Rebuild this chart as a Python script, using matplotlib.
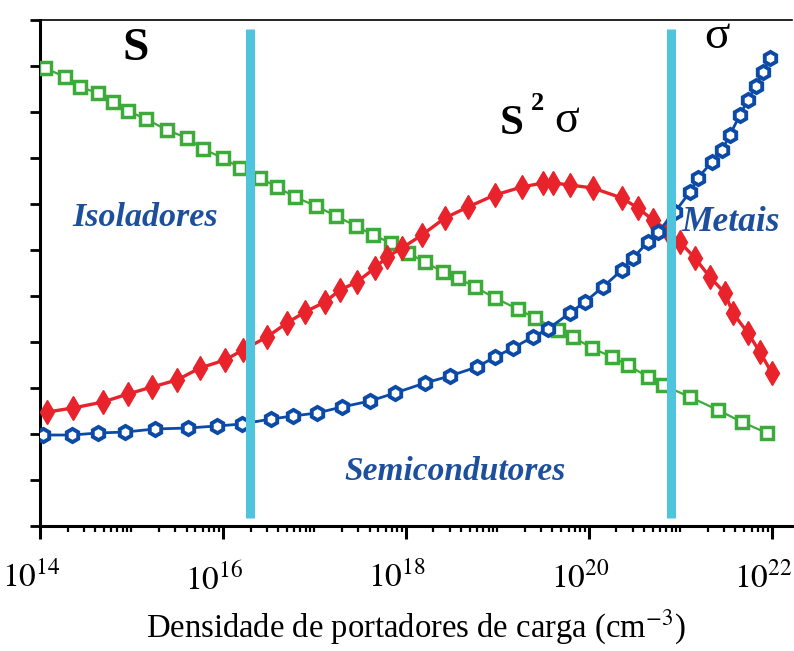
import numpy as np
import matplotlib
matplotlib.use('Agg')
import matplotlib.pyplot as plt
import matplotlib.transforms as mtransforms
from matplotlib.ticker import LogLocator, NullFormatter, MultipleLocator

# log10 da densidade de portadores e valores (unid. arbitrárias)
s_logn = [14.055, 14.273, 14.437, 14.634, 14.798, 14.962, 15.158, 15.388, 15.607, 15.781,
          16.000, 16.186, 16.404, 16.590, 16.787, 17.016, 17.235, 17.454, 17.639, 17.836,
          18.022, 18.208, 18.404, 18.568, 18.754, 18.973, 19.224, 19.410, 19.661, 19.825,
          20.033, 20.251, 20.426, 20.645, 20.809, 21.104, 21.410, 21.672, 21.945]
s_val = [9.957, 9.761, 9.543, 9.413, 9.217, 9.022, 8.848, 8.609, 8.435, 8.196,
         8.000, 7.783, 7.565, 7.370, 7.152, 6.957, 6.739, 6.522, 6.326, 6.152,
         5.935, 5.739, 5.522, 5.391, 5.196, 4.957, 4.717, 4.522, 4.261, 4.109,
         3.870, 3.674, 3.500, 3.239, 3.065, 2.804, 2.522, 2.261, 2.022]

pf_logn = [14.077, 14.361, 14.689, 14.962, 15.224, 15.497, 15.749, 16.022, 16.219, 16.481,
           16.699, 16.896, 17.115, 17.279, 17.464, 17.661, 17.792, 17.956, 18.175, 18.426,
           18.678, 18.973, 19.268, 19.497, 19.607, 19.792, 20.044, 20.361, 20.536, 20.700,
           20.852, 20.995, 21.158, 21.322, 21.486, 21.574, 21.738, 21.869, 22.000]
pf_val = [2.478, 2.565, 2.696, 2.870, 3.022, 3.174, 3.435, 3.609, 3.826, 4.109,
          4.413, 4.652, 4.870, 5.130, 5.304, 5.609, 5.848, 6.043, 6.326, 6.696,
          6.935, 7.196, 7.370, 7.457, 7.457, 7.413, 7.348, 7.130, 6.913, 6.652,
          6.435, 6.174, 5.826, 5.413, 5.065, 4.630, 4.196, 3.783, 3.326]

sig_logn = [14.033, 14.350, 14.634, 14.929, 15.257, 15.617, 15.934, 16.208, 16.525, 16.765,
            17.027, 17.301, 17.607, 17.880, 18.208, 18.481, 18.776, 18.973, 19.169, 19.388,
            19.552, 19.792, 19.956, 20.153, 20.361, 20.481, 20.645, 20.754, 20.940, 21.104,
            21.191, 21.344, 21.454, 21.541, 21.650, 21.738, 21.825, 21.902, 21.978]
sig_val = [1.978, 1.978, 2.022, 2.043, 2.109, 2.130, 2.174, 2.217, 2.326, 2.391,
           2.457, 2.587, 2.717, 2.891, 3.109, 3.261, 3.457, 3.674, 3.870, 4.109,
           4.283, 4.630, 4.870, 5.196, 5.565, 5.826, 6.174, 6.391, 6.826, 7.261,
           7.565, 7.913, 8.174, 8.500, 8.935, 9.261, 9.565, 9.870, 10.174]

# limites entre regimes (log10 n)
borders = [16.295, 20.896]
xtick_exp = [14, 16, 18, 20, 22]

plt.rcParams['font.family'] = ['Liberation Serif', 'DejaVu Serif']
plt.rcParams['mathtext.fontset'] = 'stix'

GREEN, RED, BLUE, CYAN, TXT = '#3dab3a', '#e8232b', '#0b4aa6', '#4ec5dc', '#1d4f9c'

fig = plt.figure(figsize=(7.94, 6.51), dpi=100)
ax = fig.add_axes([40/794, 1-526/651, 752/794, 506/651])

ax.plot(10**np.array(s_logn), s_val, '-s', color=GREEN, lw=1.6, ms=9,
        mfc='white', mec=GREEN, mew=2.5, zorder=3)
ax.plot(10**np.array(pf_logn), pf_val, '-d', color=RED, lw=2.4, ms=12,
        mfc=RED, mec=RED, zorder=3)
ax.plot(10**np.array(sig_logn), sig_val, '-h', color=BLUE, lw=2.0, ms=9.5,
        mfc='white', mec=BLUE, mew=2.8, zorder=4)
for b in borders:
    ax.plot([10**b, 10**b], [0.17, 10.8], color=CYAN, lw=6.5, solid_capstyle='butt', zorder=5)

ax.set_xscale('log')
ax.set_xlim(1e14, 10**22.22)
ax.set_ylim(0, 11)
ax.set_xticks([10.0**e for e in xtick_exp])
ax.set_xticklabels([r'$10^{%d}$' % e for e in xtick_exp])
ax.xaxis.set_minor_locator(LogLocator(base=10, subs=np.arange(1, 10), numticks=30))
ax.xaxis.set_minor_formatter(NullFormatter())
ax.yaxis.set_major_locator(MultipleLocator(1))
ax.set_yticklabels([])
ax.tick_params(axis='x', which='major', direction='out', length=9, width=2.2,
               labelsize=24, pad=17)
ax.tick_params(axis='x', which='minor', direction='out', length=4.5, width=1.6)
ax.tick_params(axis='y', which='major', direction='out', length=7, width=2.0)
ax.spines['right'].set_visible(False)
ax.spines['left'].set_linewidth(2.2)
ax.spines['bottom'].set_linewidth(2.2)
ax.spines['top'].set_linewidth(1.2)

# rótulos levemente deslocados para a esquerda, como no original
shift = mtransforms.ScaledTranslation(-9/100, 0, fig.dpi_scale_trans)
for lab in ax.get_xticklabels():
    lab.set_transform(lab.get_transform() + shift)

ax.set_xlabel(r'Densidade de portadores de carga (cm$^{-3}$)', fontsize=23.5, labelpad=8)

def ftext(px, py, s, **kw):
    fig.text(px/794, 1-py/651, s, ha='center', va='center', **kw)

ftext(136, 49, 'S', fontsize=34, fontweight='bold')
ftext(512, 124, 'S', fontsize=31, fontweight='bold')
ftext(537, 104, '2', fontsize=19, fontweight='bold')
ftext(567, 121, 'σ', fontsize=33)
ftext(717, 37, 'σ', fontsize=34)
ftext(145, 218, 'Isoladores', fontsize=24.5, fontweight='bold', style='italic', color=TXT)
ftext(731, 222, 'Metais', fontsize=25.5, fontweight='bold', style='italic', color=TXT)
ftext(455, 472, 'Semicondutores', fontsize=24, fontweight='bold', style='italic', color=TXT)

fig.savefig('out.png', dpi=100)
